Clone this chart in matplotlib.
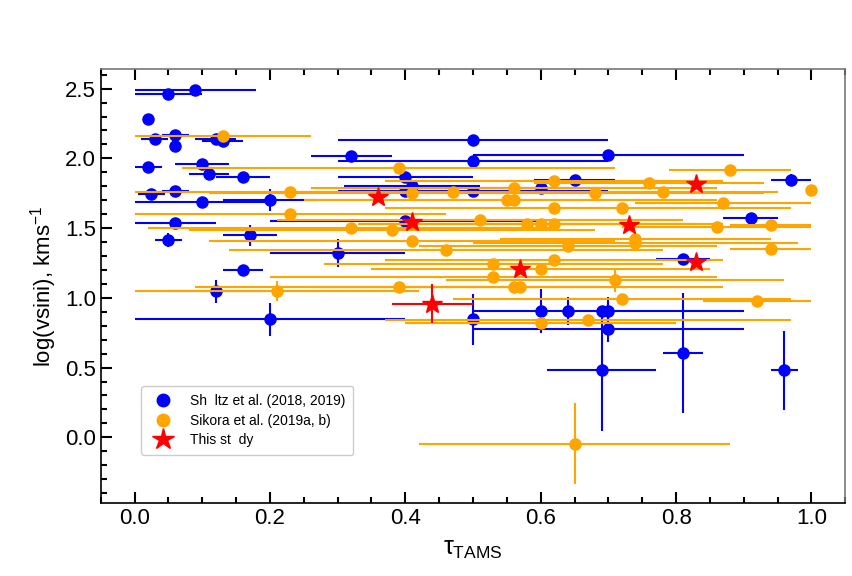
"""Rotational velocity against fractional main-sequence age, three samples."""

import matplotlib

matplotlib.use("Agg")
import matplotlib.pyplot as plt
from matplotlib.lines import Line2D
from matplotlib.ticker import MultipleLocator

# Shultz et al. (2018, 2019)
shultz_tau = [0.05, 0.09, 0.02, 0.03, 0.06, 0.06, 0.12, 0.13, 0.50, 0.32, 0.70, 0.50,
              0.02, 0.10, 0.11, 0.16, 0.40, 0.97, 0.65, 0.41, 0.60, 0.40, 0.50, 0.025,
              0.06, 0.10, 0.20, 0.06, 0.40, 0.91, 0.05, 0.17, 0.30, 0.81, 0.16, 0.12,
              0.20, 0.50, 0.60, 0.64, 0.69, 0.70, 0.70, 0.69, 0.81, 0.96]
shultz_logv = [2.46, 2.49, 2.28, 2.14, 2.165, 2.09, 2.14, 2.125, 2.13, 2.015, 2.025, 1.98,
               1.935, 1.96, 1.89, 1.87, 1.87, 1.845, 1.848, 1.80, 1.79, 1.765, 1.765, 1.745,
               1.765, 1.686, 1.70, 1.535, 1.55, 1.57, 1.418, 1.447, 1.323, 1.28, 1.203, 1.046,
               0.846, 0.846, 0.905, 0.905, 0.905, 0.905, 0.78, 0.48, 0.604, 0.48]
shultz_tau_err = [0.05, 0.09, 0.0, 0.02, 0.02, 0.0, 0.03, 0.03, 0.2, 0.06, 0.2, 0.2,
                  0.02, 0.04, 0.03, 0.04, 0.1, 0.03, 0.06, 0.1, 0.1, 0.08, 0.2, 0.02,
                  0.02, 0.1, 0.07, 0.06, 0.2, 0.04, 0.02, 0.04, 0.1, 0.04, 0.03, 0.07,
                  0.2, 0.0, 0.0, 0.0, 0.0, 0.2, 0.2, 0.08, 0.03, 0.02]
shultz_logv_err = [0.0, 0.0, 0.0, 0.0, 0.0, 0.0, 0.0, 0.03, 0.0, 0.0, 0.0, 0.0,
                   0.0, 0.0, 0.0, 0.0, 0.0, 0.04, 0.0, 0.0, 0.0, 0.0, 0.0, 0.0,
                   0.0, 0.0, 0.08, 0.0, 0.0, 0.0, 0.05, 0.075, 0.1, 0.0, 0.03, 0.08,
                   0.12, 0.185, 0.16, 0.1, 0.0, 0.1, 0.1, 0.435, 0.43, 0.285]

# Sikora et al. (2019a, b)
sikora_tau = [0.13, 0.39, 0.88, 0.62, 0.76, 1.00, 0.78, 0.68, 0.41, 0.47, 0.56, 0.23,
              0.55, 0.56, 0.87, 0.62, 0.72, 0.23, 0.51, 0.58, 0.60, 0.62, 0.86, 0.94,
              0.32, 0.38, 0.41, 0.74, 0.74, 0.46, 0.64, 0.94, 0.62, 0.53, 0.60, 0.53,
              0.71, 0.39, 0.56, 0.57, 0.21, 0.72, 0.92, 0.60, 0.67, 0.65]
sikora_logv = [2.16, 1.93, 1.92, 1.84, 1.82, 1.77, 1.76, 1.75, 1.75, 1.76, 1.79, 1.76,
               1.70, 1.70, 1.68, 1.645, 1.645, 1.60, 1.555, 1.53, 1.53, 1.53, 1.51, 1.52,
               1.50, 1.49, 1.41, 1.42, 1.39, 1.345, 1.37, 1.35, 1.27, 1.24, 1.21, 1.15,
               1.125, 1.08, 1.08, 1.08, 1.05, 0.99, 0.98, 0.82, 0.84, -0.045]
sikora_tau_err = [0.13, 0.32, 0.09, 0.25, 0.17, 0.0, 0.17, 0.25, 0.3, 0.3, 0.3, 0.23,
                  0.3, 0.3, 0.13, 0.25, 0.25, 0.23, 0.3, 0.25, 0.25, 0.25, 0.14, 0.06,
                  0.3, 0.3, 0.3, 0.2, 0.24, 0.32, 0.22, 0.06, 0.25, 0.25, 0.25, 0.33,
                  0.25, 0.3, 0.3, 0.3, 0.21, 0.25, 0.08, 0.2, 0.3, 0.23]
sikora_logv_err = [0.0] * 36 + [0.08, 0.0, 0.0, 0.0, 0.07, 0.0, 0.0, 0.0, 0.0, 0.29]

# This study
this_tau = [0.36, 0.41, 0.83, 0.73, 0.57, 0.83, 0.44]
this_logv = [1.72, 1.545, 1.817, 1.522, 1.21, 1.256, 0.957]
this_tau_err = [0.0, 0.0, 0.0, 0.0, 0.0, 0.0, 0.06]
this_logv_err = [0.0, 0.0, 0.0, 0.0, 0.0, 0.0, 0.14]

LABELS = ["Sh  ltz et al. (2018, 2019)", "Sikora et al. (2019a, b)", "This st  dy"]


def main():
    plt.rcParams["font.family"] = ["Liberation Sans", "DejaVu Sans"]
    plt.rcParams["mathtext.fontset"] = "custom"
    plt.rcParams["mathtext.rm"] = "Liberation Sans"
    plt.rcParams["mathtext.it"] = "Liberation Sans"

    fig = plt.figure(figsize=(8.53, 5.76), dpi=100)
    ax = fig.add_axes([0.118, 0.127, 0.873, 0.753])

    common = dict(linestyle="none", elinewidth=1.5, capsize=0)
    ax.errorbar(shultz_tau, shultz_logv, xerr=shultz_tau_err, yerr=shultz_logv_err,
                fmt="o", color="blue", ms=8, zorder=2, **common)
    ax.errorbar(sikora_tau, sikora_logv, xerr=sikora_tau_err, yerr=sikora_logv_err,
                fmt="o", color="orange", ms=8, zorder=3, **common)
    ax.errorbar(this_tau, this_logv, xerr=this_tau_err, yerr=this_logv_err,
                fmt="*", color="red", ms=15, zorder=4, **common)

    ax.set_xlim(-0.05, 1.05)
    ax.set_ylim(-0.47, 2.64)
    ax.xaxis.set_major_locator(MultipleLocator(0.2))
    ax.xaxis.set_minor_locator(MultipleLocator(0.05))
    ax.yaxis.set_major_locator(MultipleLocator(0.5))
    ax.yaxis.set_minor_locator(MultipleLocator(0.1))
    ax.tick_params(which="both", direction="in", top=True, right=False, labelsize=16,
                   width=1.5)
    ax.tick_params(which="major", length=8)
    ax.tick_params(which="minor", length=4)
    for side, spine in ax.spines.items():
        spine.set_color("black" if side in ("left", "bottom") else "#777777")
        spine.set_linewidth(1.2)

    ax.set_ylabel(r"log(vsini), kms$^{-1}$", fontsize=16)
    ax.set_xlabel(r"$\tau_{\mathrm{TAMS}}$", fontsize=18, labelpad=6)

    handles = [
        Line2D([], [], linestyle="none", marker="o", color="blue", ms=9),
        Line2D([], [], linestyle="none", marker="o", color="orange", ms=9),
        Line2D([], [], linestyle="none", marker="*", color="red", ms=16),
    ]
    ax.legend(handles, LABELS, loc="lower left", bbox_to_anchor=(0.045, 0.095),
              fontsize=10, handletextpad=1.0, borderpad=0.55, labelspacing=0.4,
              frameon=True, edgecolor="#cccccc", framealpha=1.0)

    fig.savefig("out.png", dpi=100)
    plt.close(fig)


if __name__ == "__main__":
    main()
